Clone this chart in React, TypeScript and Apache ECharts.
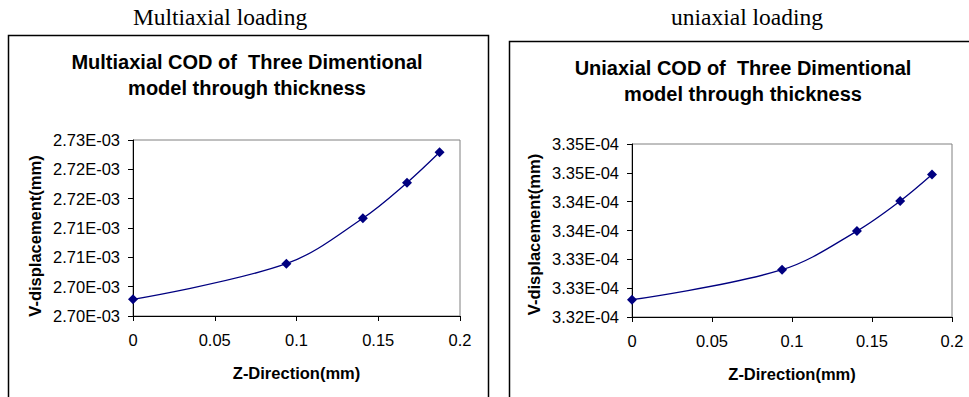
import React, { useEffect, useRef } from "react";
import * as echarts from "echarts";

const xTicks = [0, 0.05, 0.1, 0.15, 0.2];

const multiX = [0, 0.0938, 0.1406, 0.1676, 0.1875];
const multiY = [0.00270285, 0.00270892, 0.00271666, 0.00272272, 0.0027279];
const multiYLabels = ["2.70E-03", "2.70E-03", "2.71E-03", "2.71E-03", "2.72E-03", "2.72E-03", "2.73E-03"];

const uniX = [0, 0.0938, 0.1406, 0.1676, 0.1875];
const uniY = [0.00033230, 0.00033282, 0.00033349, 0.00033401, 0.00033447];
const uniYLabels = ["3.32E-04", "3.33E-04", "3.33E-04", "3.34E-04", "3.34E-04", "3.35E-04", "3.35E-04"];

const captions = ["Multiaxial loading", "uniaxial loading"];
const titles = [
  "Multiaxial COD of  Three Dimentional\nmodel through thickness",
  "Uniaxial COD of  Three Dimentional\nmodel through thickness",
];
const xName = "Z-Direction(mm)";
const yName = "V-displacement(mm)";

const FONT = "Liberation Sans, Arial, sans-serif";
const NAVY = "#000080";

function xAxisOf(gridIndex: number) {
  return {
    type: "value",
    gridIndex,
    min: xTicks[0],
    max: xTicks[xTicks.length - 1],
    interval: 0.05,
    name: xName,
    nameLocation: "middle",
    nameGap: 48,
    nameTextStyle: { fontFamily: FONT, fontWeight: "bold", fontSize: 16.5, color: "#000" },
    axisLine: { show: true, onZero: false, lineStyle: { color: "#000", width: 1 } },
    axisTick: { show: true, inside: false, length: 5, lineStyle: { color: "#000" } },
    axisLabel: {
      fontFamily: FONT,
      fontSize: 16.5,
      color: "#000",
      margin: 15,
      formatter: (v: number) => String(Math.round(v * 100) / 100),
    },
    splitLine: { show: false },
  };
}

function yAxisOf(gridIndex: number, min: number, max: number, interval: number, labels: string[], shift: number) {
  return {
    type: "value",
    gridIndex,
    min,
    max,
    interval,
    name: yName,
    nameLocation: "middle",
    nameGap: 90,
    nameTextStyle: {
      fontFamily: FONT,
      fontWeight: "bold",
      fontSize: 16.5,
      color: "#000",
      padding: [0, shift, 0, 0],
    },
    axisLine: { show: true, onZero: false, lineStyle: { color: "#000", width: 1 } },
    axisTick: { show: true, inside: false, length: 5, lineStyle: { color: "#000" } },
    axisLabel: {
      fontFamily: FONT,
      fontSize: 16.5,
      color: "#000",
      margin: 13,
      formatter: (_v: number, i: number) => labels[i] ?? "",
    },
    splitLine: { show: false },
  };
}

function seriesOf(idx: number, xs: number[], ys: number[]) {
  return {
    type: "line",
    xAxisIndex: idx,
    yAxisIndex: idx,
    data: xs.map((x, i) => [x, ys[i]]),
    smooth: 0.35,
    symbol: "diamond",
    symbolSize: 10,
    showSymbol: true,
    lineStyle: { color: NAVY, width: 1.3 },
    itemStyle: { color: NAVY },
  };
}

export default function App() {
  const ref = useRef<HTMLDivElement>(null);
  useEffect(() => {
    if (!ref.current) return;
    const chart = echarts.init(ref.current, undefined, { renderer: "svg" });
    chart.setOption({
      animation: false,
      backgroundColor: "#fff",
      title: [
        {
          text: titles[0],
          left: 247,
          top: 49,
          padding: 0,
          textAlign: "center",
          textStyle: { fontFamily: FONT, fontWeight: "bold", fontSize: 20, lineHeight: 26, color: "#000" },
        },
        {
          text: titles[1],
          left: 743,
          top: 55,
          padding: 0,
          textAlign: "center",
          textStyle: { fontFamily: FONT, fontWeight: "bold", fontSize: 20, lineHeight: 26, color: "#000" },
        },
      ],
      graphic: [
        {
          type: "text",
          x: 220,
          y: 17,
          style: {
            text: captions[0],
            fontFamily: "Liberation Serif, Times New Roman, serif",
            fontSize: 23.5,
            fill: "#000",
            textAlign: "center",
            textVerticalAlign: "middle",
          },
        },
        {
          type: "text",
          x: 747,
          y: 17,
          style: {
            text: captions[1],
            fontFamily: "Liberation Serif, Times New Roman, serif",
            fontSize: 23.5,
            fill: "#000",
            textAlign: "center",
            textVerticalAlign: "middle",
          },
        },
        {
          type: "rect",
          z: -1,
          shape: { x: 8.5, y: 35.5, width: 480, height: 420 },
          style: { fill: "none", stroke: "#000", lineWidth: 1.5 },
        },
        {
          type: "rect",
          z: -1,
          shape: { x: 509.5, y: 41.5, width: 520, height: 420 },
          style: { fill: "none", stroke: "#000", lineWidth: 1.5 },
        },
      ],
      grid: [
        {
          left: 133,
          top: 140,
          width: 327,
          height: 176,
          show: true,
          borderColor: "#808080",
          borderWidth: 1,
          backgroundColor: "#fff",
        },
        {
          left: 632,
          top: 144,
          width: 320,
          height: 173,
          show: true,
          borderColor: "#808080",
          borderWidth: 1,
          backgroundColor: "#fff",
        },
      ],
      xAxis: [xAxisOf(0), xAxisOf(1)],
      yAxis: [
        yAxisOf(0, 0.0027, 0.00273, 0.000005, multiYLabels, 16),
        yAxisOf(1, 0.000332, 0.000335, 0.0000005, uniYLabels, 8),
      ],
      series: [seriesOf(0, multiX, multiY), seriesOf(1, uniX, uniY)],
    });
    return () => chart.dispose();
  }, []);
  return (
    <div
      ref={ref}
      style={{ position: "absolute", left: 0, top: 0, width: 969, height: 397 }}
    />
  );
}
